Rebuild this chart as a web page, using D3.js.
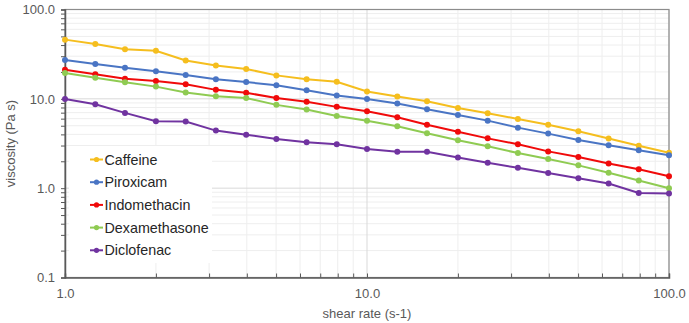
<!DOCTYPE html>
<html lang="en">

<head>
    <meta charset="UTF-8">
    <script src="https://d3js.org/d3.v7.min.js"></script>
    <title>Viscosity vs shear rate</title>
    <style>
        body { margin: 0; background: #fff; }
        text { font-family: Arial, "Liberation Sans", sans-serif; }
    </style>
</head>

<body>
    <svg id="mainsvg" width="689" height="323"></svg>

    <script>
        // shear rates: 10 points per decade, 1 to 100
        const shearRate = [1.0, 1.26, 1.58, 2.0, 2.51, 3.16, 3.98, 5.01, 6.31, 7.94,
            10.0, 12.6, 15.8, 20.0, 25.1, 31.6, 39.8, 50.1, 63.1, 79.4, 100.0]

        const caffeine = [46, 41, 36, 34.6, 26.9, 23.6, 21.6, 18.3, 16.6, 15.5,
            12.1, 10.6, 9.4, 7.9, 6.9, 5.96, 5.14, 4.33, 3.6, 2.99, 2.49]
        const piroxicam = [27.2, 24.5, 22.3, 20.3, 18.5, 16.6, 15.4, 14.2, 12.5, 10.9,
            9.93, 8.86, 7.66, 6.6, 5.7, 4.76, 4.08, 3.46, 3.02, 2.65, 2.33]
        const indomethacin = [21.2, 18.8, 16.8, 15.8, 14.6, 12.6, 11.7, 10.2, 9.25, 8.13,
            7.28, 6.23, 5.14, 4.29, 3.61, 3.1, 2.58, 2.23, 1.89, 1.63, 1.36]
        const dexamethasone = [19.5, 17.2, 15.3, 13.7, 11.8, 10.7, 10.2, 8.56, 7.6, 6.44,
            5.7, 4.93, 4.12, 3.43, 2.94, 2.47, 2.12, 1.8, 1.49, 1.22, 1.0]
        const diclofenac = [9.93, 8.71, 6.96, 5.61, 5.56, 4.41, 3.97, 3.55, 3.26, 3.1,
            2.74, 2.56, 2.56, 2.21, 1.92, 1.69, 1.48, 1.29, 1.13, 0.885, 0.87]

        const seriesNames = ['Caffeine', 'Piroxicam', 'Indomethacin', 'Dexamethasone', 'Diclofenac']
        const seriesValues = [caffeine, piroxicam, indomethacin, dexamethasone, diclofenac]
        const colors = ['#F5BE1E', '#4A75C4', '#F00A0A', '#8FCB52', '#7033A0']

        const xTicks = [1, 10, 100]
        const yTicks = [0.1, 1, 10, 100]

        const svg = d3.select('#mainsvg')
        const margin = { top: 9.5, left: 65, bottom: 45.5, right: 20 }
        const width = +svg.attr('width')
        const height = +svg.attr('height')
        const innerWidth = width - margin.left - margin.right
        const innerHeight = height - margin.top - margin.bottom

        const xScale = d3.scaleLog().domain([1, 100]).range([0, innerWidth])
        const yScale = d3.scaleLog().domain([0.1, 100]).range([innerHeight, 0])

        const g = svg.append('g')
            .attr('transform', `translate(${margin.left}, ${margin.top})`)

        // minor + major grid
        const minorX = []
        const minorY = []
        for (let d = 1; d < 100; d *= 10) for (let k = 2; k < 10; k++) minorX.push(d * k)
        for (let d = 0.1; d < 99; d *= 10) for (let k = 2; k < 10; k++) minorY.push(d * k)

        g.append('g').selectAll('line').data(minorX).join('line')
            .attr('x1', d => xScale(d)).attr('x2', d => xScale(d))
            .attr('y1', 0).attr('y2', innerHeight)
            .attr('stroke', '#eeeeee').attr('stroke-width', 1)
        g.append('g').selectAll('line').data(minorY).join('line')
            .attr('y1', d => yScale(d)).attr('y2', d => yScale(d))
            .attr('x1', 0).attr('x2', innerWidth)
            .attr('stroke', '#eeeeee').attr('stroke-width', 1)
        g.append('g').selectAll('line').data(xTicks).join('line')
            .attr('x1', d => xScale(d)).attr('x2', d => xScale(d))
            .attr('y1', 0).attr('y2', innerHeight)
            .attr('stroke', '#d9d9d9').attr('stroke-width', 1)
        g.append('g').selectAll('line').data(yTicks).join('line')
            .attr('y1', d => yScale(d)).attr('y2', d => yScale(d))
            .attr('x1', 0).attr('x2', innerWidth)
            .attr('stroke', '#d9d9d9').attr('stroke-width', 1)

        // plot border (top/right)
        g.append('rect')
            .attr('width', innerWidth).attr('height', innerHeight)
            .attr('fill', 'none').attr('stroke', '#8c8c8c').attr('stroke-width', 1.2)

        // axes
        const fmt = d => d3.format('.1f')(d)
        const yAxis = g.append('g').call(d3.axisLeft(yScale)
            .tickValues(yTicks.concat(minorY))
            .tickSize(4)
            .tickFormat(d => yTicks.includes(d) ? fmt(d) : ''))
        yAxis.selectAll('text').attr('font-size', 13).attr('fill', '#595959').attr('dx', '-3')
        yAxis.selectAll('line').attr('stroke', '#595959')
        yAxis.select('.domain').attr('stroke', '#595959').attr('stroke-width', 1.5)

        const xAxis = g.append('g')
            .attr('transform', `translate(0, ${innerHeight})`)
            .call(d3.axisBottom(xScale)
                .tickValues(xTicks.concat(minorX))
                .tickSize(-4)
                .tickFormat(d => xTicks.includes(d) ? fmt(d) : ''))
        xAxis.selectAll('text').attr('font-size', 13).attr('fill', '#595959').attr('dy', '1.35em')
        xAxis.selectAll('line').attr('stroke', '#595959')
        xAxis.select('.domain').attr('stroke', '#595959').attr('stroke-width', 1.5)

        // axis titles
        svg.append('text')
            .attr('x', margin.left + xScale(10)).attr('y', 318)
            .attr('text-anchor', 'middle')
            .attr('font-size', 13).attr('fill', '#595959')
            .text('shear rate (s-1)')
        svg.append('text')
            .attr('transform', `translate(15, ${margin.top + innerHeight / 2}) rotate(-90)`)
            .attr('text-anchor', 'middle')
            .attr('font-size', 13).attr('fill', '#595959')
            .text('viscosity (Pa s)')

        // legend box (white, covers grid)
        svg.append('rect')
            .attr('x', 69).attr('y', 146).attr('width', 143).attr('height', 117)
            .attr('fill', '#fff')

        // series
        const line = d3.line()
            .x((d, i) => xScale(shearRate[i]))
            .y(d => yScale(d))

        seriesValues.forEach((vals, s) => {
            g.append('path')
                .datum(vals)
                .attr('d', line)
                .attr('fill', 'none')
                .attr('stroke', colors[s])
                .attr('stroke-width', 2)
            g.append('g').selectAll('circle').data(vals).join('circle')
                .attr('cx', (d, i) => xScale(shearRate[i]))
                .attr('cy', d => yScale(d))
                .attr('r', 3)
                .attr('fill', colors[s])
        })

        // legend
        const legend = svg.append('g').attr('transform', 'translate(90, 159.5)')
        seriesNames.forEach((name, s) => {
            const row = legend.append('g').attr('transform', `translate(0, ${s * 22.7})`)
            row.append('line')
                .attr('x1', 0).attr('x2', 13).attr('y1', 0).attr('y2', 0)
                .attr('stroke', colors[s]).attr('stroke-width', 2)
            row.append('circle').attr('cx', 6.5).attr('cy', 0).attr('r', 2.6).attr('fill', colors[s])
            row.append('text')
                .attr('x', 14.5).attr('y', 0).attr('dy', '0.35em')
                .attr('font-size', 14.3).attr('fill', '#262626')
                .text(name)
        })
    </script>
</body>

</html>
